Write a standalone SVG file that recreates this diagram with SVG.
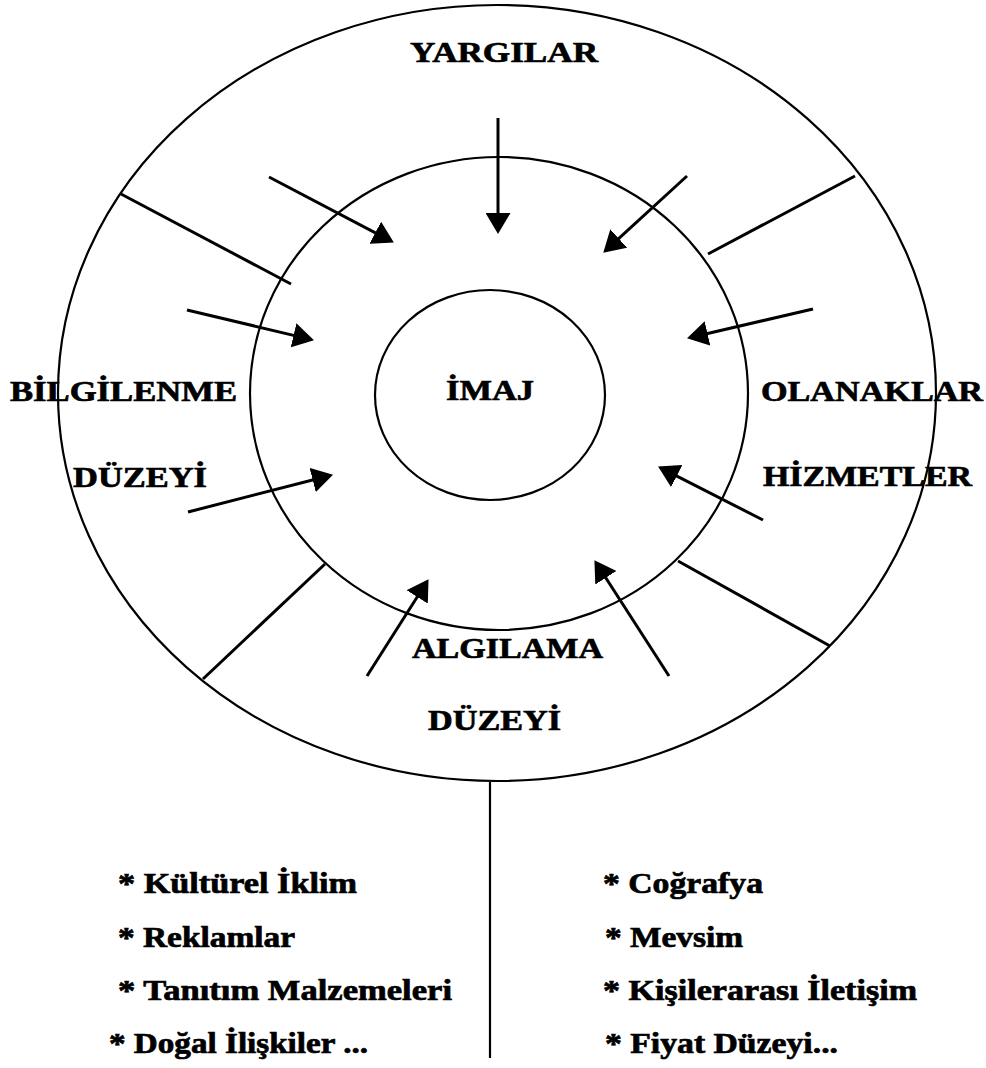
<svg xmlns="http://www.w3.org/2000/svg" width="986" height="1068" viewBox="0 0 986 1068">
<style>
.ring{fill:none;stroke:#000;stroke-width:2.2}
.arr{fill:none;stroke:#000;stroke-width:3;marker-end:url(#ah)}
.div{fill:none;stroke:#000;stroke-width:3}
.lbl{font-family:"Liberation Serif","Times New Roman",serif;font-weight:bold;font-size:30px;fill:#000;stroke:#000;stroke-width:0.7}
.lst{font-family:"Liberation Serif","Times New Roman",serif;font-weight:bold;font-size:29px;fill:#000;stroke:#000;stroke-width:0.7}
</style>
<defs>
<marker id="ah" viewBox="0 0 21 25" refX="12" refY="12.5" markerWidth="21" markerHeight="25" markerUnits="userSpaceOnUse" orient="auto">
<path d="M0,0 L21,12.5 L0,25 z" fill="#000"/>
</marker>
</defs>
<rect width="986" height="1068" fill="#fff"/>
<g id="outer-ring"><ellipse class="ring" cx="497" cy="393" rx="439" ry="388"/></g>
<g id="middle-ring"><ellipse class="ring" cx="499" cy="393.5" rx="249" ry="236.5"/></g>
<g id="inner-imaj"><ellipse class="ring" cx="490" cy="395" rx="115" ry="105"/>
<text class="lbl" x="446" y="400" textLength="88" lengthAdjust="spacingAndGlyphs">İMAJ</text></g>
<g id="yargilar"><text class="lbl" x="410" y="62" textLength="188" lengthAdjust="spacingAndGlyphs">YARGILAR</text></g>
<g id="bilgilenme"><text class="lbl" x="10" y="401" textLength="227" lengthAdjust="spacingAndGlyphs">BİLGİLENME</text>
<text class="lbl" x="73" y="487" textLength="134" lengthAdjust="spacingAndGlyphs">DÜZEYİ</text></g>
<g id="olanaklar"><text class="lbl" x="761" y="401" textLength="222" lengthAdjust="spacingAndGlyphs">OLANAKLAR</text>
<text class="lbl" x="763" y="486" textLength="209" lengthAdjust="spacingAndGlyphs">HİZMETLER</text></g>
<g id="algilama"><text class="lbl" x="412" y="658" textLength="191" lengthAdjust="spacingAndGlyphs">ALGILAMA</text>
<text class="lbl" x="428" y="730" textLength="133" lengthAdjust="spacingAndGlyphs">DÜZEYİ</text></g>
<g id="connectors">
<path class="arr" d="M498,118 L498,225"/>
<path class="arr" d="M269,177 L385.9,238.3"/>
<path class="arr" d="M687,176 L609.9,246.6"/>
<path class="arr" d="M187,310 L305.2,338.1"/>
<path class="arr" d="M813,309 L695.8,336.2"/>
<path class="arr" d="M188,512 L324.3,477"/>
<path class="arr" d="M763,520 L666.1,470.6"/>
<path class="arr" d="M367,676 L423.7,586.8"/>
<path class="arr" d="M669,676 L599.3,567.7"/>
<path class="div" d="M121,194 L291,284"/>
<path class="div" d="M855,176 L708,254"/>
<path class="div" d="M325,564 L203,679"/>
<path class="div" d="M678,561 L830,646"/>
<path class="div" d="M490,782 L490,1058" style="stroke-width:2.2"/>
</g>
<g id="list-left">
<text class="lst" x="118" y="893" textLength="239" lengthAdjust="spacingAndGlyphs">* Kültürel İklim</text>
<text class="lst" x="118" y="947" textLength="177" lengthAdjust="spacingAndGlyphs">* Reklamlar</text>
<text class="lst" x="118" y="1000" textLength="334" lengthAdjust="spacingAndGlyphs">* Tanıtım Malzemeleri</text>
<text class="lst" x="109" y="1053" textLength="259" lengthAdjust="spacingAndGlyphs">* Doğal İlişkiler ...</text>
</g>
<g id="list-right">
<text class="lst" x="603" y="893" textLength="160" lengthAdjust="spacingAndGlyphs">* Coğrafya</text>
<text class="lst" x="605" y="947" textLength="138" lengthAdjust="spacingAndGlyphs">* Mevsim</text>
<text class="lst" x="603" y="1000" textLength="314" lengthAdjust="spacingAndGlyphs">* Kişilerarası İletişim</text>
<text class="lst" x="605" y="1053" textLength="233" lengthAdjust="spacingAndGlyphs">* Fiyat Düzeyi...</text>
</g>
</svg>
